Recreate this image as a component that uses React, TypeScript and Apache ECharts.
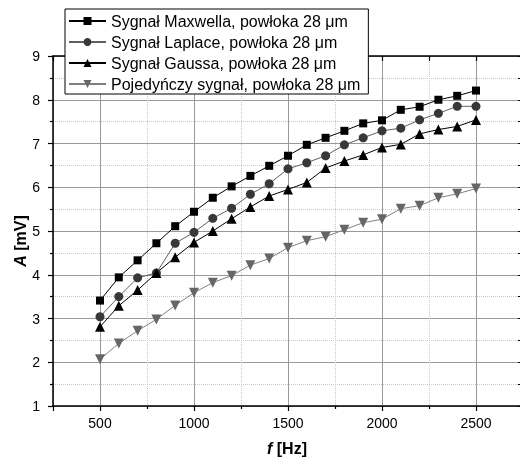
import React, { useEffect, useRef } from "react";
import * as echarts from "echarts";

const freq = [500, 600, 700, 800, 900, 1000, 1100, 1200, 1300, 1400, 1500, 1600, 1700, 1800, 1900, 2000, 2100, 2200, 2300, 2400, 2500];
const maxwell = [3.41, 3.94, 4.33, 4.72, 5.11, 5.44, 5.76, 6.02, 6.26, 6.49, 6.72, 6.97, 7.13, 7.29, 7.46, 7.53, 7.77, 7.84, 8.0, 8.09, 8.21];
const laplace = [3.04, 3.5, 3.93, 4.04, 4.72, 4.97, 5.29, 5.52, 5.84, 6.08, 6.42, 6.56, 6.72, 6.97, 7.13, 7.29, 7.35, 7.54, 7.69, 7.85, 7.85];
const gauss = [2.81, 3.29, 3.65, 4.04, 4.4, 4.74, 5.0, 5.28, 5.55, 5.8, 5.95, 6.11, 6.44, 6.6, 6.74, 6.91, 6.98, 7.22, 7.32, 7.39, 7.54];
const single = [2.07, 2.43, 2.72, 2.98, 3.3, 3.59, 3.82, 3.98, 4.22, 4.37, 4.62, 4.78, 4.87, 5.03, 5.19, 5.27, 5.51, 5.58, 5.76, 5.85, 5.97];
const seriesNames = [
  "Sygnał Maxwella, powłoka 28 μm",
  "Sygnał Laplace, powłoka 28 μm",
  "Sygnał Gaussa, powłoka 28 μm",
  "Pojedyńczy sygnał, powłoka 28 μm",
];

const FONT = "Liberation Sans, Arial, sans-serif";

export default function App() {
  const ref = useRef<HTMLDivElement>(null);
  useEffect(() => {
    if (!ref.current) return;
    const chart = echarts.init(ref.current, undefined, { renderer: "svg" });
    const pts = (ys: number[]) => freq.map((x, i) => [x, ys[i]]);
    const mk = (
      name: string,
      ys: number[],
      symbol: string,
      size: number,
      markerColor: string,
      lineColor: string,
      rotate = 0
    ) => ({
      type: "line",
      name,
      data: pts(ys),
      symbol,
      symbolSize: size,
      symbolRotate: rotate,
      showAllSymbol: true,
      itemStyle: { color: markerColor, opacity: 1 },
      lineStyle: { color: lineColor, width: 1 },
      z: 3,
    });
    const xBase = {
      type: "value",
      min: 250,
      max: 2750,
      splitNumber: 5,
    };
    chart.setOption({
      animation: false,
      textStyle: { fontFamily: FONT },
      grid: { left: 53, top: 56, width: 470, height: 350, containLabel: false, outerBoundsMode: "none" },
      legend: {
        orient: "vertical",
        left: 65,
        top: 9,
        padding: [4, 8, 2, 3],
        itemWidth: 37,
        itemHeight: 10,
        itemGap: 5,
        backgroundColor: "#ffffff",
        borderColor: "#000000",
        borderWidth: 1,
        borderRadius: 0,
        textStyle: { fontSize: 16, color: "#000", fontFamily: FONT },
        data: seriesNames,
        z: 10,
      },
      xAxis: [
        {
          ...xBase,
          position: "bottom",
          axisLine: { show: true, onZero: false, lineStyle: { color: "#000", width: 1.5 } },
          axisTick: { show: true, inside: false, length: 5, lineStyle: { color: "#000", width: 1.2 } },
          minorTick: { show: true, splitNumber: 2, length: 3, lineStyle: { color: "#000", width: 1.2 } },
          axisLabel: {
            fontSize: 14,
            color: "#000",
            margin: 10,
            fontFamily: FONT,
            formatter: (v: number) => (v % 500 === 0 && v >= 500 && v <= 2500 ? String(v) : ""),
          },
          splitLine: { show: true, lineStyle: { color: "#999", width: 1 } },
          minorSplitLine: { show: true, lineStyle: { color: "#c8c8c8", width: 1, type: [1, 1] } },
        },
        {
          ...xBase,
          position: "top",
          axisLine: { show: true, onZero: false, lineStyle: { color: "#000", width: 1.5 } },
          axisTick: { show: true, inside: true, length: 5, lineStyle: { color: "#000", width: 1.2 } },
          minorTick: { show: true, splitNumber: 2, length: 5, lineStyle: { color: "#000", width: 1.2 } },
          axisLabel: { show: false },
          splitLine: { show: false },
        },
      ],
      yAxis: [
        {
          type: "value",
          min: 1,
          max: 9,
          interval: 1,
          position: "left",
          axisLine: { show: true, onZero: false, lineStyle: { color: "#000", width: 1.5 } },
          axisTick: { show: true, inside: false, length: 5, lineStyle: { color: "#000", width: 1.2 } },
          minorTick: { show: true, splitNumber: 2, length: 3, lineStyle: { color: "#000", width: 1.2 } },
          axisLabel: { fontSize: 14, color: "#000", margin: 13, fontFamily: FONT },
          splitLine: { show: true, lineStyle: { color: "#999", width: 1 } },
          minorSplitLine: { show: true, lineStyle: { color: "#c8c8c8", width: 1, type: [1, 1] } },
        },
        {
          type: "value",
          min: 1,
          max: 9,
          interval: 1,
          position: "right",
          axisLine: { show: true, onZero: false, lineStyle: { color: "#000", width: 1.5 } },
          axisTick: { show: true, inside: true, length: 5, lineStyle: { color: "#000", width: 1.2 } },
          minorTick: { show: true, splitNumber: 2, length: 5, lineStyle: { color: "#000", width: 1.2 } },
          axisLabel: { show: false },
          splitLine: { show: false },
        },
      ],
      graphic: [
        {
          type: "text",
          x: 20,
          y: 241,
          rotation: Math.PI / 2,
          style: {
            text: "{i|A} [mV]",
            align: "center",
            verticalAlign: "middle",
            font: `bold 16px ${FONT}`,
            fill: "#000",
            rich: { i: { fontStyle: "italic", fontWeight: "bold", fontSize: 16, fontFamily: FONT } },
          },
        },
        {
          type: "text",
          x: 287,
          y: 448,
          style: {
            text: "{i|f} [Hz]",
            align: "center",
            verticalAlign: "middle",
            font: `bold 16px ${FONT}`,
            fill: "#000",
            rich: { i: { fontStyle: "italic", fontWeight: "bold", fontSize: 16, fontFamily: FONT } },
          },
        },
      ],
      series: [
        mk(seriesNames[0], maxwell, "rect", 8, "#000000", "#000000"),
        mk(seriesNames[1], laplace, "circle", 9, "#383838", "#606060"),
        mk(seriesNames[2], gauss, "triangle", 10, "#000000", "#000000"),
        mk(seriesNames[3], single, "triangle", 10, "#666666", "#808080", 180),
      ],
    } as any);
    return () => chart.dispose();
  }, []);
  return <div ref={ref} style={{ position: "fixed", left: 0, top: 0, width: 520, height: 458 }} />;
}
